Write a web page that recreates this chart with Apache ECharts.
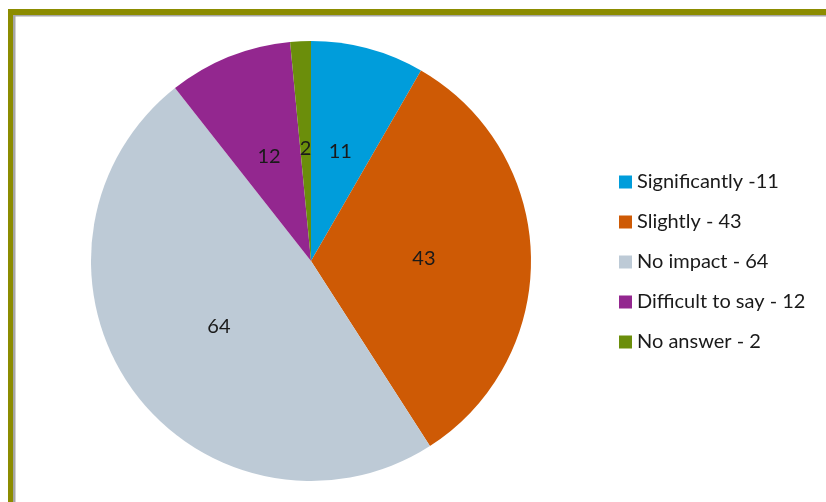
<!DOCTYPE html>
<html>
<head>
<meta charset="utf-8">
<script src="https://cdn.jsdelivr.net/npm/echarts@6/dist/echarts.min.js"></script>
<style>
  html, body { margin: 0; padding: 0; background: #ffffff; }
  #chart { width: 826px; height: 502px; }
</style>
</head>
<body>
<div id="chart"></div>
<script>
// Survey answers: how strongly the change affected respondents
const categories = ['Significantly', 'Slightly', 'No impact', 'Difficult to say', 'No answer'];
const values = [11, 43, 64, 12, 2];
const legendSeparators = [' -', ' - ', ' - ', ' - ', ' - '];
const sliceColors = ['#009ddb', '#ce5a05', '#bdcad6', '#93278f', '#6b8e0b'];

const chart = echarts.init(document.getElementById('chart'), null, { renderer: 'canvas' });

const pieData = categories.map((name, i) => ({
  name: name,
  value: values[i],
  itemStyle: { color: sliceColors[i] }
}));

const legendText = {};
categories.forEach((name, i) => { legendText[name] = name + legendSeparators[i] + values[i]; });

const fontFamily = 'Lato, "Open Sans", sans-serif';

chart.setOption({
  animation: false,
  backgroundColor: '#ffffff',
  graphic: [
    // olive frame along the top and left edges, with a grey inner shadow
    { type: 'rect', shape: { x: 8, y: 9, width: 818, height: 6 }, style: { fill: '#8c8c00' }, silent: true },
    { type: 'rect', shape: { x: 8, y: 9, width: 5, height: 493 }, style: { fill: '#8c8c00' }, silent: true },
    { type: 'rect', shape: { x: 13, y: 15, width: 813, height: 1.5 }, style: { fill: '#a6a6a6' }, silent: true },
    { type: 'rect', shape: { x: 13, y: 15, width: 2.5, height: 487 }, style: { fill: '#a6a6a6' }, silent: true }
  ],
  legend: {
    orient: 'vertical',
    left: 614,
    top: 167,
    padding: 5,
    itemWidth: 13,
    itemHeight: 13,
    itemGap: 20,
    icon: 'rect',
    formatter: name => legendText[name],
    textStyle: { fontFamily: fontFamily, fontSize: 20, color: '#1a1a1a', lineHeight: 20, padding: [0, 0, 0, 0] }
  },
  series: [{
    type: 'pie',
    center: [311, 261],
    radius: [0, 220],
    startAngle: 90,
    clockwise: true,
    avoidLabelOverlap: false,
    minShowLabelAngle: 0,
    data: pieData,
    label: {
      show: true,
      position: 'inside',
      formatter: '{c}',
      fontFamily: fontFamily,
      fontSize: 20,
      color: '#1a1a1a'
    },
    labelLine: { show: false },
    itemStyle: { borderWidth: 0 },
    emphasis: { disabled: true }
  }]
});
</script>
</body>
</html>
